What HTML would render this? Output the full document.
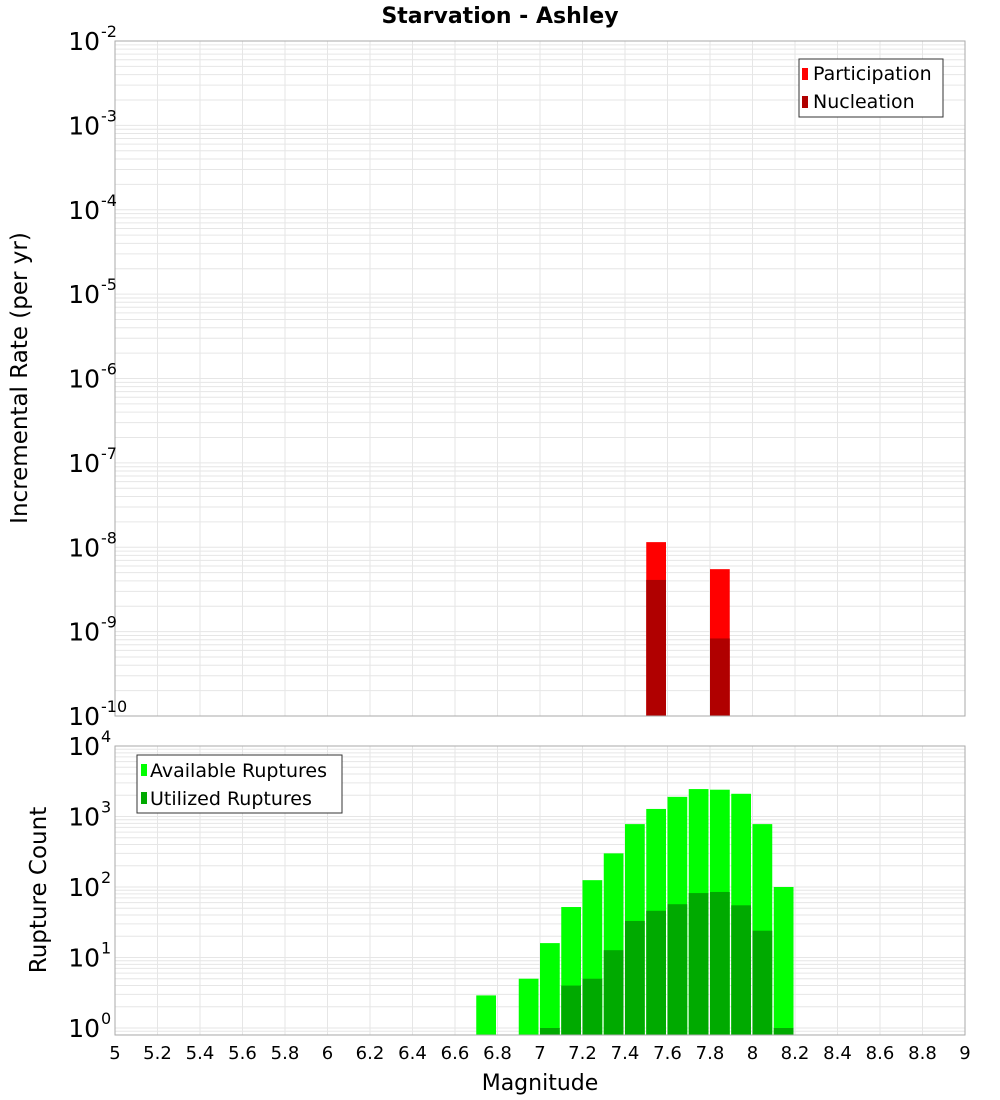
<!DOCTYPE html>
<html><head><meta charset="utf-8"><style>
body{margin:0;background:#fff;}
svg{display:block;font-family:"DejaVu Sans","Liberation Sans",sans-serif;}
</style></head><body>
<svg id="chart" width="1000" height="1100" xmlns="http://www.w3.org/2000/svg">
<text x="500" y="23" text-anchor="middle" font-size="22" font-weight="bold">Starvation - Ashley</text>
<g id="topg"></g>
<g id="botg"></g>
<text transform="translate(27,378) rotate(-90)" text-anchor="middle" font-size="23">Incremental Rate (per yr)</text>
<text transform="translate(46,890) rotate(-90)" text-anchor="middle" font-size="23">Rupture Count</text>
<text x="540" y="1090" text-anchor="middle" font-size="22">Magnitude</text>
<g>
<rect x="799" y="59" width="144" height="58" fill="#fff" stroke="#333" stroke-width="1"/>
<rect x="802" y="68" width="6" height="12" fill="#ff0000"/>
<text x="813" y="80" font-size="19">Participation</text>
<rect x="802" y="96" width="6" height="12" fill="#b00000"/>
<text x="813" y="108" font-size="19">Nucleation</text>
</g>
<g>
<rect x="137" y="755" width="205" height="58" fill="#fff" stroke="#333" stroke-width="1"/>
<rect x="141" y="764" width="6" height="12" fill="#00ff00"/>
<text x="150" y="777" font-size="19">Available Ruptures</text>
<rect x="141" y="792" width="6" height="12" fill="#00aa00"/>
<text x="150" y="805" font-size="19">Utilized Ruptures</text>
</g>
</svg>
<script>
const rateMags = [7.55, 7.85];
const participation = [1.15e-8, 5.5e-9];
const nucleation = [4.1e-9, 8.3e-10];
const countMags = [6.75,6.85,6.95,7.05,7.15,7.25,7.35,7.45,7.55,7.65,7.75,7.85,7.95,8.05,8.15];
const available = [2.9,0,5,16,52,125,300,780,1280,1900,2450,2400,2100,780,100];
const utilized = [0,0,0,1,4,5,12.7,33,46,57,82,85,55,24,1];
const xTicks = [5,5.2,5.4,5.6,5.8,6,6.2,6.4,6.6,6.8,7,7.2,7.4,7.6,7.8,8,8.2,8.4,8.6,8.8,9];
const topExps = [-2,-3,-4,-5,-6,-7,-8,-9,-10];
const botExps = [4,3,2,1,0];

const NS="http://www.w3.org/2000/svg";
const L=115,R=965;
const X=m=>L+(m-5)*(R-L)/4;
const TT=41,TB=716;
const yTop=v=>TT+(-2-Math.log10(v))*(TB-TT)/8;
const BT=746,BB=1035;
const yBot=v=>1028-Math.log10(v)*70.5;
function el(p,t,a){const e=document.createElementNS(NS,t);for(const k in a)e.setAttribute(k,a[k]);p.appendChild(e);return e;}
function grid(g,t0,b0,yf,expMin,expMax){
  for(let e=expMin;e<expMax;e++)for(let k=1;k<10;k++){const y=yf(k*Math.pow(10,e));if(y<t0-0.5||y>b0+0.5)continue;
    const ln=el(g,'line',{x1:L,x2:R,y1:y,y2:y,stroke:'#e6e6e6','stroke-width':1});
    
    }
  xTicks.forEach(t=>{const ln=el(g,'line',{x1:X(t),x2:X(t),y1:t0,y2:b0,stroke:'#e6e6e6','stroke-width':1});
    
    });
}
function ylab(g,y,e){
  const t=el(g,'text',{x:100,y:y+9,'text-anchor':'end','font-size':25});
  
  
  t.textContent='10';
  const s=el(g,'text',{x:101,y:y-4,'font-size':16});
  
  
  s.textContent=String(e);
}
const topG=document.getElementById('topg');
grid(topG,TT,TB,yTop,-10,-2);
const w=(R-L)/40-1.5;
rateMags.forEach((m,i)=>{
  const x=X(m)-0.05*(R-L)/4;
  const p=el(topG,'rect',{x:x,y:yTop(participation[i]),width:w,height:TB-yTop(participation[i]),fill:'#ff0000'});
  
  
  const n=el(topG,'rect',{x:x,y:yTop(nucleation[i]),width:w,height:TB-yTop(nucleation[i]),fill:'#b00000'});
  
  
});
const tf=el(topG,'rect',{x:L,y:TT,width:R-L,height:TB-TT,fill:'none',stroke:'#aaa'});


topExps.forEach(e=>ylab(topG,yTop(Math.pow(10,e)),e));

const botG=document.getElementById('botg');
grid(botG,BT,BB,yBot,-1,4);
countMags.forEach((m,i)=>{
  const x=X(m)-0.05*(R-L)/4;
  if(available[i]>0){const a=el(botG,'rect',{x:x,y:yBot(available[i]),width:w,height:BB-yBot(available[i]),fill:'#00ff00'});
    
    }
  if(utilized[i]>0){const u=el(botG,'rect',{x:x,y:yBot(utilized[i]),width:w,height:BB-yBot(utilized[i]),fill:'#00aa00'});
    
    }
});
const bf=el(botG,'rect',{x:L,y:BT,width:R-L,height:BB-BT,fill:'none',stroke:'#aaa'});


botExps.forEach(e=>ylab(botG,yBot(Math.pow(10,e)),e));
xTicks.forEach(t=>{
  const tx=el(botG,'text',{x:X(t),y:1059,'text-anchor':'middle','font-size':18});
  
  
  tx.textContent=String(t);
});
</script>
</body></html>
